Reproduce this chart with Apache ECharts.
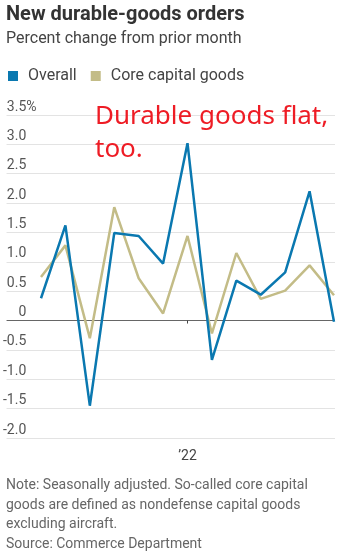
<!DOCTYPE html>
<html>
<head>
<meta charset="utf-8">
<script src="https://cdn.jsdelivr.net/npm/echarts@6/dist/echarts.min.js"></script>
<style>
html,body{margin:0;padding:0;background:#fff;}
#c{width:345px;height:557px;}
</style>
</head>
<body>
<div id="c"></div>
<script>
const categories = ['Jul 2021','Aug 2021','Sep 2021','Oct 2021','Nov 2021','Dec 2021','Jan 2022','Feb 2022','Mar 2022','Apr 2022','May 2022','Jun 2022','Jul 2022'];
const xTickLabels = ['','','','','','','\u201922','','','','','',''];
const overall = [0.38, 1.62, -1.45, 1.49, 1.44, 0.97, 3.02, -0.67, 0.68, 0.44, 0.82, 2.2, -0.02];
const coreCapital = [0.74, 1.28, -0.3, 1.93, 0.72, 0.12, 1.44, -0.22, 1.15, 0.37, 0.51, 0.94, 0.43];
const yTickLabels = ['-2.0','-1.5','-1.0','-0.5','0','0.5','1.0','1.5','2.0','2.5','3.0','3.5'];

const FONT = 'Roboto, sans-serif';
const BLUE = '#0a78b0';
const KHAKI = '#c3bc87';

const chart = echarts.init(document.getElementById('c'), null, {renderer: 'canvas'});
const splitColors = yTickLabels.map(l => l === '0' ? '#666' : '#e3e3e3');

chart.setOption({
  animation: false,
  backgroundColor: '#fff',
  title: [
    {
      text: 'New durable-goods orders',
      subtext: 'Percent change from prior month',
      left: 6, top: 5, itemGap: 6, padding: 0,
      textStyle: {fontFamily: FONT, fontSize: 20, fontWeight: 'bold', color: '#333'},
      subtextStyle: {fontFamily: FONT, fontSize: 16, color: '#444'}
    },
    {
      text: 'Durable goods flat,\ntoo.',
      left: 95, top: 100, padding: 0,
      textStyle: {fontFamily: '"Noto Sans", sans-serif', fontSize: 26, fontWeight: 'normal', color: '#ee1c25', lineHeight: 33}
    },
    {
      text: 'Note: Seasonally adjusted. So-called core capital\ngoods are defined as nondefense capital goods\nexcluding aircraft.\nSource: Commerce Department',
      left: 6, top: 476, padding: 0,
      textStyle: {fontFamily: FONT, fontSize: 14, fontWeight: 'normal', color: '#666', lineHeight: 19.5}
    }
  ],
  legend: {
    left: 8, top: 68, padding: 0,
    icon: 'rect', itemWidth: 10, itemHeight: 10, itemGap: 14,
    textStyle: {fontFamily: FONT, fontSize: 16, color: '#444', padding: [0, 0, 0, 5]},
    data: ['Overall', 'Core capital goods']
  },
  grid: [
    {left: 41, right: 11, top: 115, bottom: 119},
    {left: 6, right: 10, top: 115, bottom: 119}
  ],
  xAxis: [
    {
      gridIndex: 0, type: 'category', boundaryGap: false, data: categories,
      axisLine: {show: false},
      axisTick: {show: true, length: 3, lineStyle: {color: '#444'}, interval: (i) => xTickLabels[i] !== ''},
      axisLabel: {interval: (i) => xTickLabels[i] !== '', formatter: (v, i) => xTickLabels[i], margin: 11,
        fontFamily: FONT, fontSize: 14, color: '#444'},
      splitLine: {show: false}
    },
    {gridIndex: 1, type: 'value', show: false}
  ],
  yAxis: [
    {gridIndex: 0, type: 'value', min: -2, max: 3.5, interval: 0.5, show: false},
    {
      gridIndex: 1, type: 'value', min: -2, max: 3.5, interval: 0.5,
      axisLine: {show: false}, axisTick: {show: false},
      splitLine: {show: true, lineStyle: {color: splitColors, width: 1}},
      axisLabel: {
        inside: true, align: 'right', verticalAlign: 'bottom', margin: 30,
        fontFamily: FONT, fontSize: 14, color: '#555', padding: [0, 0, 1, 0],
        formatter: (v, i) => yTickLabels[i] + (i === yTickLabels.length - 1 ? '{p|%}' : '{h|%}'),
        rich: {
          p: {fontFamily: FONT, fontSize: 14, color: '#555'},
          h: {fontFamily: FONT, fontSize: 14, color: 'rgba(0,0,0,0)'}
        }
      }
    }
  ],
  series: [
    {name: 'Overall', type: 'line', xAxisIndex: 0, yAxisIndex: 0, data: overall,
      symbol: 'none', lineStyle: {color: BLUE, width: 2.5}, itemStyle: {color: BLUE}, z: 3},
    {name: 'Core capital goods', type: 'line', xAxisIndex: 0, yAxisIndex: 0, data: coreCapital,
      symbol: 'none', lineStyle: {color: KHAKI, width: 2.5}, itemStyle: {color: KHAKI}, z: 2}
  ]
});
</script>
</body>
</html>
